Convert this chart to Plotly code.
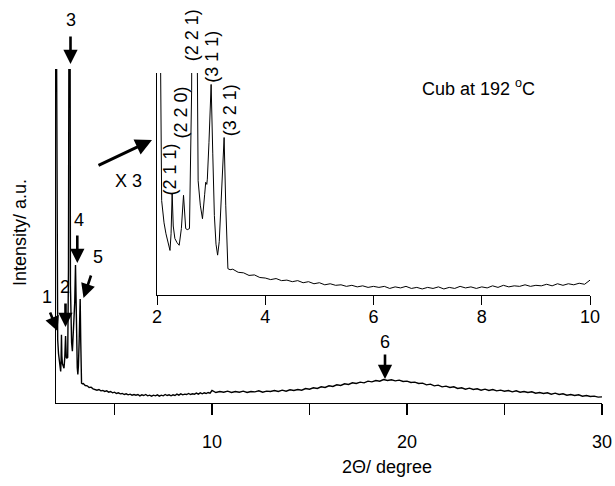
import plotly.graph_objects as go

# ---------------- data ----------------
# low-angle region with Bragg peaks (2-theta in degrees, intensity a.u.)
theta_peaks = [2.00, 2.04, 2.055, 2.086, 2.13, 2.166, 2.21, 2.24, 2.26, 2.28, 2.30, 2.33,
               2.37, 2.41, 2.45, 2.49, 2.53, 2.56, 2.60, 2.64, 2.675, 2.715, 2.74, 2.76,
               2.80, 2.84, 2.88, 2.90, 2.92, 2.93, 2.96, 3.00, 3.03, 3.06, 3.09, 3.12,
               3.15, 3.19, 3.24, 3.27, 3.31, 3.35]
int_peaks = [150, 70, 60, 18.9, 14.6, 12.5, 10.4, 9.3, 12.5, 20.3, 14.0, 11.6,
             10.8, 10.3, 13.5, 19.9, 13.5, 13.3, 13.5, 40, 150, 150, 35, 22.7,
             18.0, 15.4, 20.0, 22.4, 22.0, 23.0, 30.0, 41.2, 28.0, 16.0, 10.5, 8.4,
             11.0, 19.0, 31.0, 18.0, 5.8, 5.6]

# decaying background 3.4 - 10 degree
theta_bg1 = [3.4, 3.5, 3.6, 3.7, 3.8, 3.9, 4.0, 4.1, 4.2, 4.3, 4.4, 4.5, 4.6, 4.7, 4.8, 4.9,
             5.0, 5.1, 5.2, 5.3, 5.4, 5.5, 5.6, 5.7, 5.8, 5.9, 6.0, 6.1, 6.2, 6.3, 6.4, 6.5,
             6.6, 6.7, 6.8, 6.9, 7.0, 7.1, 7.2, 7.3, 7.4, 7.5, 7.6, 7.7, 7.8, 7.9, 8.0, 8.1,
             8.2, 8.3, 8.4, 8.5, 8.6, 8.7, 8.8, 8.9, 9.0, 9.1, 9.2, 9.3, 9.4, 9.5, 9.6, 9.7,
             9.8, 9.9, 10.0]
int_bg1 = [5.7, 5.1, 5.0, 4.5, 4.6, 4.1, 4.0, 3.7, 3.9, 3.5, 3.6, 3.3, 3.5, 3.1, 3.3, 2.9,
           3.1, 2.7, 2.9, 2.6, 2.7, 2.4, 2.6, 2.3, 2.5, 2.2, 2.4, 2.2, 2.4, 2.0, 2.3, 2.1,
           2.4, 2.0, 2.2, 1.9, 2.2, 2.0, 2.3, 1.9, 2.2, 2.0, 2.4, 2.1, 2.3, 2.0, 2.3, 2.1,
           2.5, 2.2, 2.6, 2.3, 2.5, 2.4, 2.7, 2.4, 2.6, 2.5, 2.8, 2.5, 2.9, 2.6, 2.9, 2.7,
           3.0, 2.8, 3.6]

# broad amorphous halo 10.2 - 30 degree (peak 6)
theta_bg2 = [10.2, 10.4, 10.6, 10.8, 11.0, 11.2, 11.4, 11.6, 11.8, 12.0, 12.2, 12.4, 12.6, 12.8,
             13.0, 13.2, 13.4, 13.6, 13.8, 14.0, 14.2, 14.4, 14.6, 14.8, 15.0, 15.2, 15.4, 15.6,
             15.8, 16.0, 16.2, 16.4, 16.6, 16.8, 17.0, 17.2, 17.4, 17.6, 17.8, 18.0, 18.2, 18.4,
             18.6, 18.8, 19.0, 19.2, 19.4, 19.6, 19.8, 20.0, 20.2, 20.4, 20.6, 20.8, 21.0, 21.2,
             21.4, 21.6, 21.8, 22.0, 22.2, 22.4, 22.6, 22.8, 23.0, 23.2, 23.4, 23.6, 23.8, 24.0,
             24.2, 24.4, 24.6, 24.8, 25.0, 25.2, 25.4, 25.6, 25.8, 26.0, 26.2, 26.4, 26.6, 26.8,
             27.0, 27.2, 27.4, 27.6, 27.8, 28.0, 28.2, 28.4, 28.6, 28.8, 29.0, 29.2, 29.4, 29.6,
             29.8, 30.0]
int_bg2 = [3.0, 3.3, 3.1, 3.4, 3.0, 3.3, 3.1, 3.4, 3.0, 3.3, 3.2, 3.5, 3.1, 3.4,
           3.3, 3.6, 3.3, 3.7, 3.4, 3.8, 3.6, 3.9, 3.7, 4.2, 4.0, 4.4, 4.2, 4.7,
           4.5, 5.0, 4.8, 5.3, 5.1, 5.6, 5.4, 5.9, 5.7, 6.1, 5.9, 6.4, 6.2, 6.6,
           6.4, 6.9, 6.6, 6.8, 6.5, 6.7, 6.3, 6.4, 6.0, 6.1, 5.7, 5.8, 5.3, 5.5,
           5.0, 5.2, 4.7, 4.9, 4.5, 4.7, 4.2, 4.4, 4.0, 4.3, 3.9, 4.1, 3.7, 4.0,
           3.6, 3.9, 3.5, 3.7, 3.4, 3.6, 3.2, 3.5, 3.1, 3.3, 3.0, 3.2, 2.8, 3.0,
           2.7, 2.9, 2.5, 2.8, 2.4, 2.6, 2.2, 2.4, 2.1, 2.3, 1.9, 2.1, 1.8, 1.9,
           1.6, 1.7]

two_theta = theta_peaks + theta_bg1 + theta_bg2
intensity = int_peaks + int_bg1 + int_bg2

main_ticks = [5, 10, 15, 20, 25, 30]
main_ticktext = ["", "10", "", "20", "", "30"]
inset_ticks = [2, 4, 6, 8, 10]
inset_ticktext = ["2", "4", "6", "8", "10"]

hkl_labels = ["(2 1 1)", "(2 2 0)", "(2 2 1)", "(3 1 1)", "(3 2 1)"]
peak_numbers = ["1", "2", "3", "4", "5", "6"]

# ---------------- figure ----------------
W, H = 615, 486
FONT = "Liberation Sans, Arial, sans-serif"
FS = 18


def P(px, py):
    return px / W, (H - py) / H


fig = go.Figure()
fig.add_trace(go.Scatter(x=two_theta, y=intensity, mode="lines",
                         line=dict(color="black", width=1.4),
                         xaxis="x", yaxis="y", showlegend=False, hoverinfo="skip"))
fig.add_trace(go.Scatter(x=two_theta, y=intensity, mode="lines",
                         line=dict(color="black", width=1.0),
                         xaxis="x2", yaxis="y2", showlegend=False, hoverinfo="skip"))

axis_common = dict(showgrid=False, zeroline=False, showline=True, linecolor="black",
                   mirror=False, automargin=False)

fig.update_layout(
    width=W, height=H, autosize=False,
    margin=dict(l=0, r=0, t=0, b=0, pad=0, autoexpand=False),
    paper_bgcolor="white", plot_bgcolor="rgba(0,0,0,0)",
    font=dict(family=FONT, size=FS, color="black"),
    xaxis=dict(domain=[56 / W, 602 / W], range=[2, 30], anchor="y",
               tickmode="array", tickvals=main_ticks, ticktext=main_ticktext,
               ticks="outside", ticklen=11, tickwidth=1.3, tickcolor="black",
               linewidth=1.3, ticklabelstandoff=12,
               tickfont=dict(family=FONT, size=FS), **axis_common),
    yaxis=dict(domain=[(H - 402.5) / H, (H - 69) / H], range=[0, 100], anchor="x",
               showticklabels=False, ticks="", linewidth=1.3, **axis_common),
    xaxis2=dict(domain=[157 / W, 590 / W], range=[2, 10], anchor="y2",
                tickmode="array", tickvals=inset_ticks, ticktext=inset_ticktext,
                ticks="outside", ticklen=9, tickwidth=1, tickcolor="black",
                linewidth=1, ticklabelstandoff=-4,
                tickfont=dict(family=FONT, size=FS), **axis_common),
    yaxis2=dict(domain=[(H - 295) / H, (H - 73) / H], range=[0.74, 43.4], anchor="x2",
                showticklabels=False, ticks="", linewidth=1, **axis_common),
)

ann = []


def text(px, py, s, angle=0, size=FS):
    x, y = P(px, py)
    ann.append(dict(x=x, y=y, xref="paper", yref="paper", text=s, showarrow=False,
                    textangle=angle, xanchor="center", yanchor="middle",
                    font=dict(family=FONT, size=size, color="black")))


def arrow(tx, ty, hx, hy, width=2.6):
    x, y = P(hx, hy)
    ann.append(dict(x=x, y=y, xref="paper", yref="paper", text="", showarrow=True,
                    ax=tx - hx, ay=ty - hy, axref="pixel", ayref="pixel",
                    arrowhead=2, arrowsize=1.1, arrowwidth=width, arrowcolor="black"))


# axis titles
text(20, 233, "Intensity/ a.u.", angle=-90)
text(387, 467, "2\u0398/ degree")

# peak numbers with arrows
text(46.5, 297, peak_numbers[0]); arrow(49.5, 311, 57.5, 331)
text(65, 287, peak_numbers[1]);   arrow(65.5, 302, 65.5, 327)
text(70.7, 20, peak_numbers[2]);  arrow(70.5, 35, 70.5, 64)
text(79, 220, peak_numbers[3]);   arrow(77.3, 234, 77.3, 263)
text(97.5, 257, peak_numbers[4]); arrow(91.5, 274, 83.5, 298)
text(385, 342, peak_numbers[5]);  arrow(385, 353, 385, 379)

# magnification arrow
text(128, 181, "X 3")
arrow(97, 166, 152, 140, width=3)

# inset caption
text(479, 87, "Cub at 192 <sup>o</sup>C")

# hkl labels (rotated)
text(169.5, 170, hkl_labels[0], angle=-90)
text(180.5, 113, hkl_labels[1], angle=-90)
text(192.3, 35, hkl_labels[2], angle=-90)
text(211.7, 57, hkl_labels[3], angle=-90)
text(230.3, 110, hkl_labels[4], angle=-90)

fig.update_layout(annotations=ann)
fig.write_html(
    "out.html",
    config={"responsive": False, "displayModeBar": False, "staticPlot": True},
    default_width="615px", default_height="486px",
    post_script="document.body.style.margin='0';document.body.style.padding='0';"
                "document.body.style.overflow='hidden';",
)
